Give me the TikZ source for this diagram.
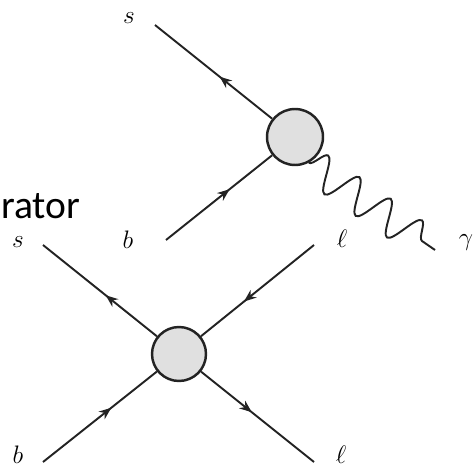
\documentclass[tikz,border=0pt]{standalone}
\usepackage{fontspec}
\usepackage{amsmath}
\newfontfamily\slidefont{Carlito}
\usetikzlibrary{arrows.meta,decorations.markings,decorations.pathmorphing}
\definecolor{BlobGray}{RGB}{224,224,224}
\definecolor{LineDark}{RGB}{35,35,35}
\tikzset{
  blob/.style={circle,draw=LineDark,fill=BlobGray,line width=1.4pt,inner sep=0pt},
  fermion/.style={draw=LineDark,line width=1.1pt,postaction={decorate},
    decoration={markings,mark=at position #1 with {\arrow{Stealth[length=7pt,width=5.5pt]}}}},
  photon/.style={draw=LineDark,line width=1.1pt,decorate,
    decoration={snake,segment length=0.76cm,amplitude=0.34cm}},
  lbl/.style={anchor=base,inner sep=0pt,font=\fontsize{14}{16}\selectfont},
}

\begin{document}
\begin{tikzpicture}[x=0.02cm,y=-0.02cm]
    \useasboundingbox (0,0) rectangle (475,476);
    %% Slide title fragment
    \node[anchor=base west,inner sep=0pt,font=\slidefont\fontsize{22.5}{26}\selectfont] (title) at (1,218) {rator};
    %% Radiative vertex
    \node[blob,minimum size=1.12cm] (vtxa) at (295,137) {};
    \coordinate (sa) at (155,25);
    \coordinate (ba) at (166,240);
    \coordinate (gam) at (435,250);
    \node[lbl] (salbl) at (129,24) {$s$};
    \node[lbl] (balbl) at (128,248) {$b$};
    \node[lbl] (gamlbl) at (466,245) {$\gamma$};
    %% Four-fermion vertex
    \node[blob,minimum size=1.08cm] (vtxb) at (179,354) {};
    \coordinate (sb) at (43,245);
    \coordinate (bb) at (43,462);
    \coordinate (la) at (314,245);
    \coordinate (lb) at (314,462);
    \node[lbl] (sblbl) at (18,247) {$s$};
    \node[lbl] (bblbl) at (18,463) {$b$};
    \node[lbl] (lalbl) at (342,247) {$\ell$};
    \node[lbl] (lblbl) at (341,463) {$\ell$};
    %% Lines
    \draw[fermion=0.45] (vtxa)--(sa);
    \draw[fermion=0.6] (ba)--(vtxa);
    \draw[photon] (vtxa.-62)--(gam);
    \draw[fermion=0.45] (vtxb)--(sb);
    \draw[fermion=0.62] (la)--(vtxb);
    \draw[fermion=0.6] (bb)--(vtxb);
    \draw[fermion=0.45] (vtxb)--(lb);
  \end{tikzpicture}
\end{document}
